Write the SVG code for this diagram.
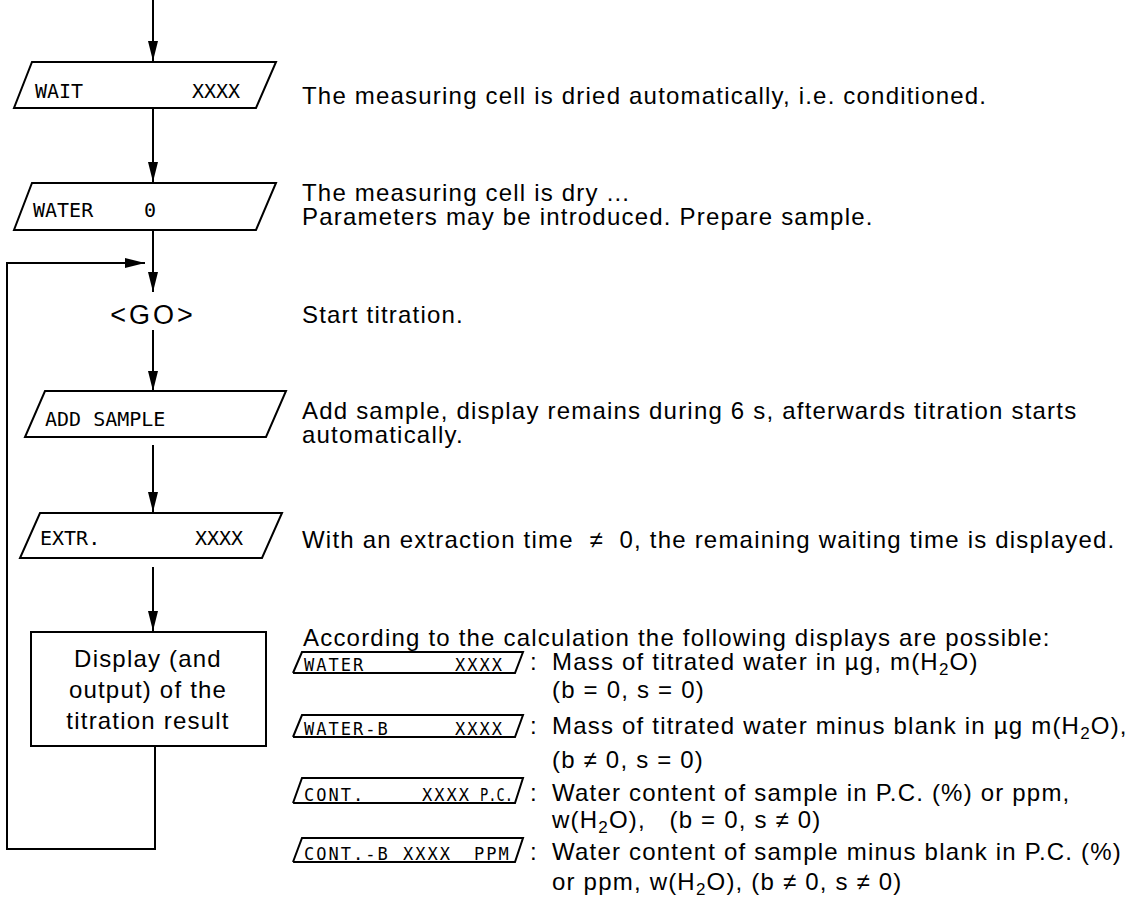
<svg xmlns="http://www.w3.org/2000/svg" width="1136" height="910" viewBox="0 0 1136 910">
<defs>
<marker id="ah" markerWidth="20" markerHeight="10" refX="20" refY="5" orient="auto" markerUnits="userSpaceOnUse">
<path d="M0,0 L20,5 L0,10 z" fill="#000"/>
</marker>
<style>
.shape{fill:#fff;stroke:#000;stroke-width:2}
.small{fill:none;stroke:#000;stroke-width:2}
.conn{fill:none;stroke:#000;stroke-width:2}
.disp{font-family:"DejaVu Sans Mono","Liberation Mono",monospace;font-size:20px;fill:#000}
.disps{font-family:"DejaVu Sans Mono","Liberation Mono",monospace;font-size:17px;letter-spacing:2px;fill:#000}
.txt{font-family:"Liberation Sans",Arial,sans-serif;font-size:24px;letter-spacing:1.2px;fill:#000}
.go{font-family:"Liberation Sans",Arial,sans-serif;font-size:27px;letter-spacing:3px;fill:#000}
</style>
</defs>
<rect width="1136" height="910" fill="#fff"/>
<g id="connectors">
<line class="conn" x1="153" y1="0" x2="153" y2="61" marker-end="url(#ah)"/>
<line class="conn" x1="153" y1="109" x2="153" y2="182" marker-end="url(#ah)"/>
<line class="conn" x1="153" y1="231" x2="153" y2="292" marker-end="url(#ah)"/>
<line class="conn" x1="153" y1="330" x2="153" y2="391" marker-end="url(#ah)"/>
<line class="conn" x1="153" y1="445" x2="153" y2="512" marker-end="url(#ah)"/>
<line class="conn" x1="153" y1="567" x2="153" y2="631" marker-end="url(#ah)"/>
<polyline class="conn" points="155,747 155,849 7,849 7,263 145,263" marker-end="url(#ah)"/>
</g>
<g id="n-wait">
<polygon class="shape" points="32,62 276,62 256,108 14,108"/>
<text class="disp" x="35" y="98">WAIT</text>
<text class="disp" x="192" y="98">XXXX</text>
</g>
<g id="n-water">
<polygon class="shape" points="32,183 276,183 256,230 14,230"/>
<text class="disp" x="33" y="217">WATER</text>
<text class="disp" x="144" y="217">0</text>
</g>
<g id="n-go">
<text class="go" x="153" y="324" text-anchor="middle">&lt;GO&gt;</text>
</g>
<g id="n-add">
<polygon class="shape" points="45,391 286,391 266,437 25,437"/>
<text class="disp" x="45" y="426">ADD SAMPLE</text>
</g>
<g id="n-extr">
<polygon class="shape" points="40,513 282,513 262,558 20,558"/>
<text class="disp" x="40" y="545">EXTR.</text>
<text class="disp" x="195" y="545">XXXX</text>
</g>
<g id="n-result">
<rect class="shape" x="31" y="632" width="235" height="114"/>
<text class="txt" x="148" y="667" text-anchor="middle">Display (and</text>
<text class="txt" x="148" y="698" text-anchor="middle">output) of the</text>
<text class="txt" x="148" y="729" text-anchor="middle">titration result</text>
</g>
<g id="descriptions">
<text class="txt" x="302" y="104">The measuring cell is dried automatically, i.e. conditioned.</text>
<text class="txt" x="302" y="201">The measuring cell is dry ...</text>
<text class="txt" x="302" y="225">Parameters may be introduced. Prepare sample.</text>
<text class="txt" x="302" y="323">Start titration.</text>
<text class="txt" x="302" y="419">Add sample, display remains during 6 s, afterwards titration starts</text>
<text class="txt" x="302" y="443">automatically.</text>
<text class="txt" x="302" y="548" xml:space="preserve">With an extraction time  ≠  0, the remaining waiting time is displayed.</text>
<text class="txt" x="303" y="646">According to the calculation the following displays are possible:</text>
</g>
<g id="d-water">
<polyline class="small" points="293,673 302,652 523,652 515,673 293,673"/>
<text class="disps" x="304" y="671">WATER</text>
<text class="disps" x="455" y="671">XXXX</text>
<text class="txt" x="530" y="670">:</text>
<text class="txt" x="552" y="670">Mass of titrated water in µg, m(H<tspan dy="5" font-size="17">2</tspan><tspan dy="-5">O)</tspan></text>
<text class="txt" x="552" y="698">(b = 0, s = 0)</text>
</g>
<g id="d-waterb">
<polyline class="small" points="293,737 302,715 523,715 515,737 293,737"/>
<text class="disps" x="304" y="735">WATER-B</text>
<text class="disps" x="455" y="735">XXXX</text>
<text class="txt" x="530" y="734">:</text>
<text class="txt" x="552" y="734">Mass of titrated water minus blank in µg m(H<tspan dy="5" font-size="17">2</tspan><tspan dy="-5">O),</tspan></text>
<text class="txt" x="552" y="768">(b ≠ 0, s = 0)</text>
</g>
<g id="d-cont">
<polyline class="small" points="293,803 302,778 523,778 515,803 293,803"/>
<text class="disps" x="304" y="801">CONT.</text>
<text class="disps" x="422" y="801">XXXX</text>
<text class="disps" x="480" y="801" textLength="33" lengthAdjust="spacingAndGlyphs" style="letter-spacing:0">P.C.</text>
<text class="txt" x="530" y="801">:</text>
<text class="txt" x="552" y="801">Water content of sample in P.C. (%) or ppm,</text>
<text class="txt" x="552" y="828" xml:space="preserve">w(H<tspan dy="5" font-size="17">2</tspan><tspan dy="-5">O),   (b = 0, s ≠ 0)</tspan></text>
</g>
<g id="d-contb">
<polyline class="small" points="293,862 302,838 523,838 515,862 293,862"/>
<text class="disps" x="304" y="860">CONT.-B</text>
<text class="disps" x="403" y="860">XXXX</text>
<text class="disps" x="474" y="860">PPM</text>
<text class="txt" x="530" y="860">:</text>
<text class="txt" x="552" y="860">Water content of sample minus blank in P.C. (%)</text>
<text class="txt" x="552" y="890">or ppm, w(H<tspan dy="5" font-size="17">2</tspan><tspan dy="-5">O), (b ≠ 0, s ≠ 0)</tspan></text>
</g>
</svg>
